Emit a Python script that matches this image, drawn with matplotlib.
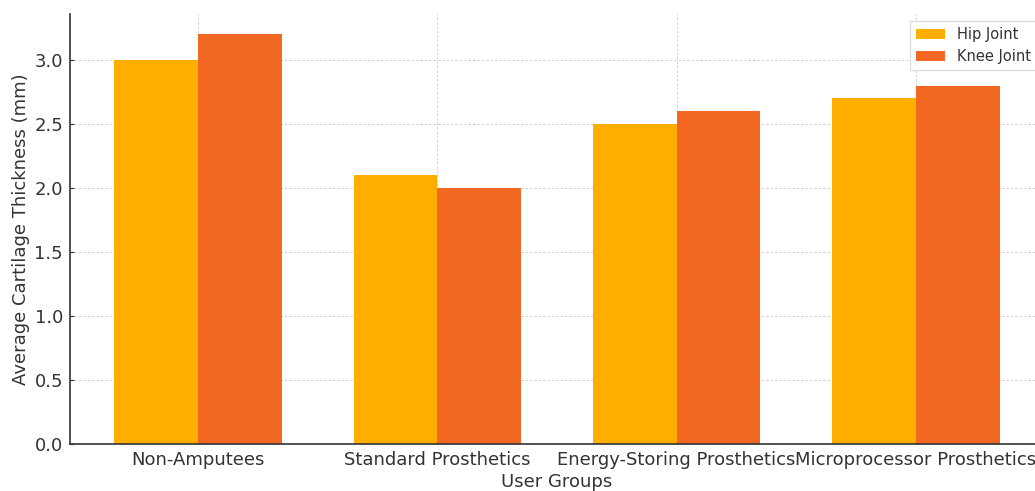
import numpy as np
import matplotlib
matplotlib.use("Agg")
import matplotlib.pyplot as plt

plt.rcParams["font.family"] = ["DejaVu Sans"]

# Data
groups = ["Non-Amputees", "Standard Prosthetics", "Energy-Storing Prosthetics", "Microprocessor Prosthetics"]
hip_joint = [3.0, 2.1, 2.5, 2.7]
knee_joint = [3.2, 2.0, 2.6, 2.8]

hip_color = "#FFAE00"
knee_color = "#F26822"
width = 0.35

fig = plt.figure(figsize=(10.35, 4.91), dpi=100)
ax = fig.add_axes([70 / 1035, 47 / 491, 974 / 1035, 430 / 491])

x = np.arange(len(groups))
ax.bar(x - width / 2, hip_joint, width, color=hip_color, label="Hip Joint", zorder=2)
ax.bar(x + width / 2, knee_joint, width, color=knee_color, label="Knee Joint", zorder=2)

ax.set_xticks(x)
ax.set_xticklabels(groups, fontsize=13, color="#333333")
ax.tick_params(axis="y", labelsize=13, labelcolor="#333333", length=3, direction="in", color="#333333", pad=5)
ax.tick_params(axis="x", length=3, direction="in", color="#333333", pad=5)
ax.set_xlabel("User Groups", fontsize=13, color="#333333", labelpad=3)
ax.set_ylabel("Average Cartilage Thickness (mm)", fontsize=13, color="#333333", labelpad=3)

ax.grid(True, linestyle=(0, (2.5, 2)), color="#cfcfcf", linewidth=0.7, zorder=0)
ax.set_axisbelow(True)
for side in ["top", "right"]:
    ax.spines[side].set_visible(False)
for side in ["left", "bottom"]:
    ax.spines[side].set_color("#333333")
    ax.spines[side].set_linewidth(1.2)

leg = ax.legend(loc="upper right", fontsize=10.5, framealpha=1, edgecolor="#dddddd",
                fancybox=False, bbox_to_anchor=(1.0, 1.0))
for t in leg.get_texts():
    t.set_color("#333333")

fig.savefig("out.png", dpi=100)
